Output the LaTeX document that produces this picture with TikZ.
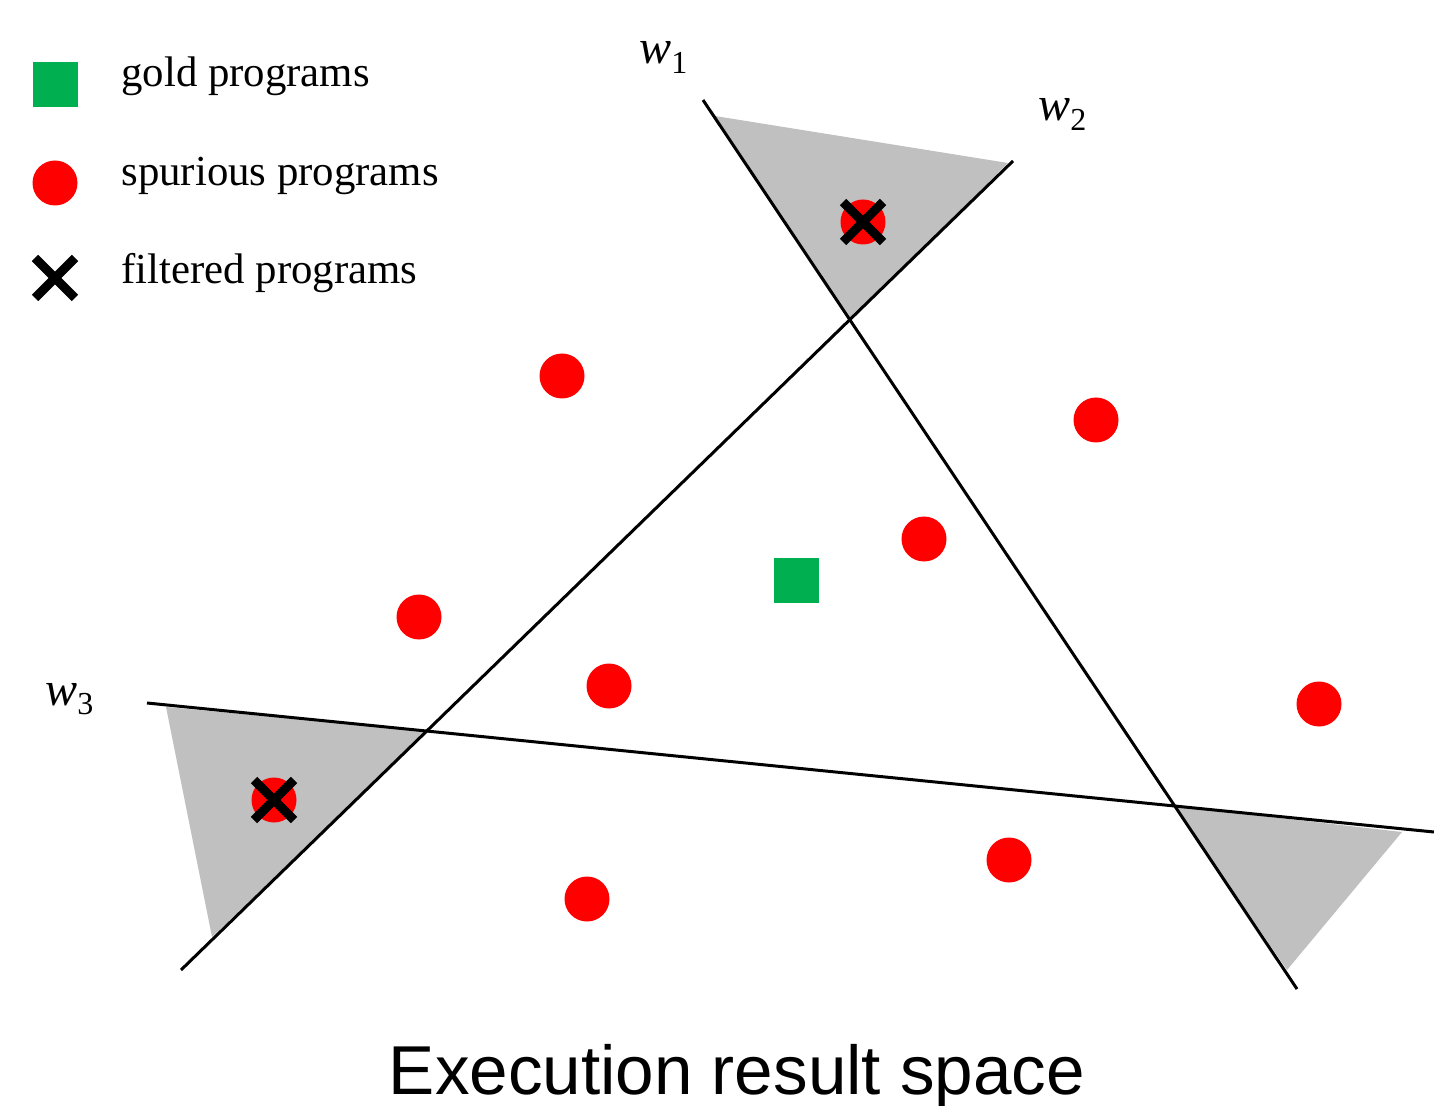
\documentclass[tikz,border=0pt]{standalone}
\usepackage{fontspec}
\setmainfont{Liberation Serif}
\newfontfamily\titlefont{Liberation Sans}
\usetikzlibrary{shapes.misc}
\definecolor{goldgreen}{HTML}{00B050}
\definecolor{spurred}{HTML}{FF0000}
\definecolor{regiongray}{HTML}{C0C0C0}
\tikzset{
  spurdot/.style={circle, fill=spurred, inner sep=0pt, minimum size=22.5pt},
  goldsq/.style={rectangle, fill=goldgreen, inner sep=0pt, minimum size=22.5pt},
  filtx/.style={cross out, draw=black, line width=4.5pt, inner sep=0pt, minimum size=15.5pt},
  boundary/.style={line width=1.5pt, black},
  region/.style={fill=regiongray},
  legtext/.style={anchor=base west, inner sep=0pt, font=\fontsize{21.4}{25}\selectfont},
  wlabel/.style={anchor=base west, inner sep=0pt, font=\fontsize{24}{28}\selectfont}
}
\newcommand{\wlab}[1]{\textit{w}\raisebox{-4.8pt}{\fontsize{16}{19}\selectfont #1}}
\begin{document}
\begin{tikzpicture}[x=0.5pt,y=-0.5pt]
\useasboundingbox (0,0) rectangle (1434,1106);
% line end points
\coordinate (a1) at (703,100);
\coordinate (b1) at (1297,989);
\coordinate (a2) at (1013,161);
\coordinate (b2) at (181,970);
\coordinate (a3) at (147,703);
\coordinate (b3) at (1434,832);
\coordinate (i12) at (intersection of a1--b1 and a2--b2);
\coordinate (i23) at (intersection of a2--b2 and a3--b3);
\coordinate (i13) at (intersection of a1--b1 and a3--b3);
% shaded regions
\fill[region] (715,116) -- (1008,163) -- (i12) -- cycle;
\fill[region] (166,707) -- (i23) -- (212,937) -- cycle;
\fill[region] (i13) -- (1402,832) -- (1287,970) -- cycle;
% boundaries
\draw[boundary] (a1) -- (b1);
\draw[boundary] (a2) -- (b2);
\draw[boundary] (a3) -- (b3);
% labels
\node[wlabel] (w1) at (639,64) {\wlab{1}};
\node[wlabel] (w2) at (1038,121) {\wlab{2}};
\node[wlabel] (w3) at (45,705) {\wlab{3}};
% programs
\node[spurdot] (s1) at (562,376) {};
\node[spurdot] (s2) at (1096,420) {};
\node[spurdot] (s3) at (924,539) {};
\node[spurdot] (s4) at (419,617) {};
\node[spurdot] (s5) at (609,686) {};
\node[spurdot] (s6) at (1319,704) {};
\node[spurdot] (s7) at (1009,860) {};
\node[spurdot] (s8) at (587,899) {};
\node[spurdot] (f1) at (863,222) {};
\node[filtx] (fx1) at (863,222) {};
\node[spurdot] (f2) at (274,800) {};
\node[filtx] (fx2) at (274,800) {};
\node[goldsq] (g1) at (796,580) {};
% legend
\node[goldsq] (lg) at (55,85) {};
\node[spurdot] (ls) at (55,183) {};
\node[filtx] (lf) at (55,278) {};
\node[legtext] (tg) at (121,87) {gold programs};
\node[legtext] (ts) at (121,186) {spurious programs};
\node[legtext] (tf) at (121,284) {filtered programs};
% title
\node[anchor=base, inner sep=0pt, font=\titlefont\fontsize{34.6}{40}\selectfont] (title) at (737,1094) {Execution result space};
\end{tikzpicture}
\end{document}
